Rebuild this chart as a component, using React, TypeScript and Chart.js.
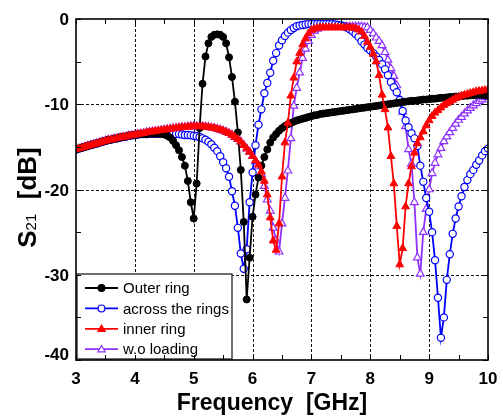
import React, { useEffect, useRef } from 'react';
import { Chart, registerables } from 'chart.js';

Chart.register(...registerables);

// Frequency sweep (GHz)
const FREQ_GHZ = [
  3.0, 3.05, 3.1, 3.15, 3.2, 3.25, 3.3, 3.35, 3.4, 3.45,
  3.5, 3.55, 3.6, 3.65, 3.7, 3.75, 3.8, 3.85, 3.9, 3.95,
  4.0, 4.05, 4.1, 4.15, 4.2, 4.25, 4.3, 4.35, 4.4, 4.45,
  4.5, 4.55, 4.6, 4.65, 4.7, 4.75, 4.8, 4.85, 4.9, 4.95,
  5.0, 5.05, 5.1, 5.15, 5.2, 5.25, 5.3, 5.35, 5.4, 5.45,
  5.5, 5.55, 5.6, 5.65, 5.7, 5.75, 5.8, 5.85, 5.9, 5.95,
  6.0, 6.05, 6.1, 6.15, 6.2, 6.25, 6.3, 6.35, 6.4, 6.45,
  6.5, 6.55, 6.6, 6.65, 6.7, 6.75, 6.8, 6.85, 6.9, 6.95,
  7.0, 7.05, 7.1, 7.15, 7.2, 7.25, 7.3, 7.35, 7.4, 7.45,
  7.5, 7.55, 7.6, 7.65, 7.7, 7.75, 7.8, 7.85, 7.9, 7.95,
  8.0, 8.05, 8.1, 8.15, 8.2, 8.25, 8.3, 8.35, 8.4, 8.45,
  8.5, 8.55, 8.6, 8.65, 8.7, 8.75, 8.8, 8.85, 8.9, 8.95,
  9.0, 9.05, 9.1, 9.15, 9.2, 9.25, 9.3, 9.35, 9.4, 9.45,
  9.5, 9.55, 9.6, 9.65, 9.7, 9.75, 9.8, 9.85, 9.9, 9.95,
  10.0,
];

// S21 (dB) – Outer ring
const OUTER_RING = [
  -15.3, -15.2, -15.1, -15.0, -14.9, -14.8, -14.7, -14.6, -14.5, -14.4,
  -14.3, -14.2, -14.15, -14.05, -14.0, -13.9, -13.85, -13.8, -13.7, -13.65,
  -13.6, -13.55, -13.5, -13.5, -13.5, -13.45, -13.45, -13.45, -13.45, -13.5,
  -13.55, -13.7, -13.9, -14.3, -14.8, -15.4, -16.2, -17.2, -19.0, -21.5,
  -23.4, -19.3, -12.8, -7.6, -4.4, -2.85, -2.1, -1.85, -1.8, -1.85,
  -2.1, -2.85, -4.5, -6.8, -9.7, -13.3, -17.7, -23.8, -32.9, -28.0,
  -23.2, -20.6, -18.6, -17.2, -16.2, -15.3, -14.5, -13.9, -13.5, -13.1,
  -12.8, -12.55, -12.35, -12.2, -12.05, -11.9, -11.8, -11.7, -11.6, -11.5,
  -11.4, -11.3, -11.25, -11.15, -11.1, -11.05, -11.0, -10.95, -10.9, -10.85,
  -10.8, -10.75, -10.7, -10.65, -10.6, -10.55, -10.5, -10.45, -10.4, -10.35,
  -10.3, -10.25, -10.2, -10.15, -10.1, -10.05, -10.0, -9.95, -9.9, -9.85,
  -9.8, -9.75, -9.7, -9.65, -9.6, -9.6, -9.55, -9.5, -9.45, -9.45,
  -9.4, -9.35, -9.35, -9.3, -9.25, -9.25, -9.2, -9.15, -9.15, -9.1,
  -9.1, -9.05, -9.0, -9.0, -8.95, -8.95, -8.9, -8.9, -8.9, -8.95,
  -9.0,
];

// S21 (dB) – across the rings
const ACROSS_RINGS = [
  -15.3, -15.2, -15.1, -15.0, -14.9, -14.8, -14.7, -14.6, -14.5, -14.4,
  -14.3, -14.2, -14.15, -14.05, -14.0, -13.9, -13.85, -13.8, -13.7, -13.65,
  -13.6, -13.55, -13.5, -13.5, -13.5, -13.45, -13.45, -13.45, -13.45, -13.45,
  -13.45, -13.45, -13.45, -13.45, -13.5, -13.5, -13.55, -13.6, -13.6, -13.65,
  -13.7, -13.75, -13.85, -14.0, -14.15, -14.4, -14.7, -15.1, -15.5, -16.1,
  -16.8, -17.5, -18.5, -20.2, -21.9, -24.5, -27.5, -29.3, -27.0, -21.5,
  -18.0, -14.8, -12.4, -10.6, -8.7, -7.5, -6.3, -4.9, -4.0, -3.1,
  -2.5, -2.0, -1.6, -1.3, -1.05, -0.85, -0.75, -0.7, -0.65, -0.6,
  -0.6, -0.6, -0.6, -0.6, -0.6, -0.6, -0.6, -0.6, -0.65, -0.7,
  -0.75, -0.85, -1.0, -1.2, -1.45, -1.75, -2.1, -2.6, -3.0, -3.4,
  -3.7, -4.0, -4.4, -4.8, -5.3, -5.9, -6.6, -7.4, -8.0, -8.6,
  -9.5, -10.8, -11.9, -12.7, -13.4, -14.0, -14.9, -17.2, -19.1, -21.0,
  -22.6, -25.0, -28.3, -32.7, -37.4, -35.0, -30.6, -27.6, -25.2, -23.4,
  -22.0, -20.8, -19.7, -18.9, -18.2, -17.7, -17.1, -16.6, -16.0, -15.5,
  -15.2,
];

// S21 (dB) – inner ring
const INNER_RING = [
  -15.3, -15.2, -15.1, -15.0, -14.9, -14.8, -14.7, -14.6, -14.5, -14.4,
  -14.3, -14.2, -14.15, -14.05, -14.0, -13.9, -13.85, -13.8, -13.7, -13.65,
  -13.6, -13.5, -13.45, -13.4, -13.3, -13.25, -13.2, -13.15, -13.1, -13.05,
  -13.0, -12.95, -12.9, -12.85, -12.8, -12.75, -12.7, -12.7, -12.65, -12.6,
  -12.6, -12.6, -12.6, -12.6, -12.65, -12.7, -12.75, -12.8, -12.9, -13.0,
  -13.1, -13.25, -13.4, -13.6, -13.85, -14.1, -14.4, -14.8, -15.2, -15.6,
  -16.1, -16.6, -17.1, -17.9, -19.0, -20.6, -23.3, -26.0, -27.1, -24.0,
  -18.5, -14.5, -12.2, -9.0, -6.9, -5.0, -4.0, -3.0, -2.3, -1.7,
  -1.3, -1.15, -1.05, -1.0, -1.0, -1.0, -1.0, -1.0, -1.0, -1.0,
  -1.0, -1.0, -1.0, -1.0, -1.05, -1.1, -1.25, -1.5, -2.0, -2.7,
  -3.3, -4.1, -5.0, -6.6, -8.9, -10.6, -12.75, -16.1, -19.3, -24.3,
  -28.8, -26.9, -22.0, -19.3, -17.3, -15.7, -14.6, -13.9, -13.2, -12.5,
  -11.9, -11.4, -11.0, -10.7, -10.4, -10.1, -9.9, -9.7, -9.5, -9.3,
  -9.15, -9.0, -8.9, -8.8, -8.7, -8.6, -8.5, -8.45, -8.4, -8.35,
  -8.3,
];

// S21 (dB) – without loading
const WO_LOADING = [
  -15.3, -15.2, -15.1, -15.0, -14.9, -14.8, -14.7, -14.6, -14.5, -14.4,
  -14.3, -14.2, -14.15, -14.05, -14.0, -13.9, -13.85, -13.8, -13.7, -13.65,
  -13.6, -13.5, -13.45, -13.4, -13.3, -13.25, -13.2, -13.15, -13.1, -13.05,
  -13.0, -12.95, -12.9, -12.85, -12.8, -12.75, -12.7, -12.7, -12.65, -12.6,
  -12.6, -12.6, -12.6, -12.6, -12.65, -12.7, -12.75, -12.8, -12.9, -13.0,
  -13.1, -13.25, -13.4, -13.6, -13.85, -14.1, -14.4, -14.8, -15.2, -15.6,
  -16.1, -16.7, -17.3, -18.2, -19.6, -21.2, -22.5, -24.5, -26.0, -27.3,
  -24.0, -21.0, -17.8, -14.0, -10.2, -8.1, -6.3, -4.6, -3.5, -2.6,
  -1.9, -1.4, -1.15, -1.0, -0.95, -0.9, -0.9, -0.9, -0.9, -0.9,
  -0.9, -0.9, -0.9, -0.9, -0.9, -0.9, -0.9, -0.9, -0.95, -1.0,
  -1.3, -1.7, -2.2, -2.6, -3.1, -3.9, -4.8, -5.8, -6.7, -7.8,
  -9.4, -10.9, -12.6, -15.3, -17.0, -21.5, -28.0, -29.9, -25.0, -22.3,
  -20.0, -18.1, -16.9, -15.9, -15.15, -14.35, -13.8, -13.3, -12.8, -12.3,
  -11.85, -11.5, -11.1, -10.75, -10.45, -10.15, -9.9, -9.65, -9.45, -9.2,
  -9.0,
];

const SERIES_NAMES = ['Outer ring', 'across the rings', 'inner ring', 'w.o loading'];

const X_MIN = 3;
const X_MAX = 10;
const Y_MIN = -40;
const Y_MAX = 0;
const X_TICKS = [3, 4, 5, 6, 7, 8, 9, 10];
const X_TICK_LABELS = ['3', '4', '5', '6', '7', '8', '9', '10'];
const Y_TICKS = [0, -10, -20, -30, -40];
const Y_TICK_LABELS = ['0', '-10', '-20', '-30', '-40'];
const X_MINOR_STEP = 0.5;
const Y_MINOR_STEP = 5;
const X_TITLE = 'Frequency  [GHz]';

const FONT = "'Liberation Sans', Arial, Helvetica, sans-serif";

function trianglePath(ctx: CanvasRenderingContext2D, cx: number, cy: number, r: number) {
  ctx.beginPath();
  for (let k = 0; k < 3; k++) {
    const ang = -Math.PI / 2 + (k * 2 * Math.PI) / 3;
    const px = cx + r * Math.cos(ang);
    const py = cy + r * Math.sin(ang);
    if (k === 0) ctx.moveTo(px, py);
    else ctx.lineTo(px, py);
  }
  ctx.closePath();
}

const decorPlugin = {
  id: 'decor',
  beforeDatasetsDraw(chart: any) {
    const { ctx, chartArea: a, scales } = chart;
    const x = scales.x;
    const y = scales.y;
    ctx.save();
    ctx.strokeStyle = '#111';
    ctx.lineWidth = 1;
    ctx.setLineDash([3, 2]);
    for (const v of X_TICKS) {
      if (v === X_MIN || v === X_MAX) continue;
      const px = Math.round(x.getPixelForValue(v)) + 0.5;
      ctx.beginPath();
      ctx.moveTo(px, a.top);
      ctx.lineTo(px, a.bottom);
      ctx.stroke();
    }
    for (const v of Y_TICKS) {
      if (v === Y_MIN || v === Y_MAX) continue;
      const py = Math.round(y.getPixelForValue(v)) + 0.5;
      ctx.beginPath();
      ctx.moveTo(a.left, py);
      ctx.lineTo(a.right, py);
      ctx.stroke();
    }
    ctx.restore();
  },
  afterDatasetsDraw(chart: any) {
    const { ctx, chartArea: a, scales } = chart;
    const x = scales.x;
    const y = scales.y;
    ctx.save();

    // Legend box
    const box = { left: a.left + 1, top: a.bottom - 86, width: 155, height: 85 };
    ctx.fillStyle = '#fff';
    ctx.fillRect(box.left, box.top, box.width, box.height);
    ctx.strokeStyle = '#333';
    ctx.lineWidth = 1.4;
    ctx.strokeRect(box.left, box.top, box.width, box.height);

    ctx.font = `15px ${FONT}`;
    ctx.textBaseline = 'middle';
    ctx.textAlign = 'left';
    SERIES_NAMES.forEach((name, i) => {
      const ds = chart.data.datasets[i];
      const cy = box.top + 14 + i * 20.4;
      const x0 = box.left + 8;
      const x1 = box.left + 41;
      const mx = (x0 + x1) / 2;
      ctx.strokeStyle = ds.borderColor;
      ctx.lineWidth = 1.8;
      ctx.beginPath();
      ctx.moveTo(x0, cy);
      ctx.lineTo(x1, cy);
      ctx.stroke();
      ctx.lineWidth = 1.2;
      if (ds.pointStyle === 'triangle') trianglePath(ctx, mx, cy + 0.5, 4.2);
      else {
        ctx.beginPath();
        ctx.arc(mx, cy, 3.4, 0, Math.PI * 2);
      }
      ctx.fillStyle = ds.pointBackgroundColor;
      ctx.fill();
      ctx.strokeStyle = ds.pointBorderColor;
      ctx.stroke();
      ctx.fillStyle = '#000';
      ctx.fillText(name, box.left + 46, cy + 1);
    });

    // Frame
    ctx.strokeStyle = '#000';
    ctx.lineWidth = 1.6;
    ctx.strokeRect(a.left, a.top, a.right - a.left, a.bottom - a.top);

    // Inward ticks on all four sides
    ctx.lineWidth = 1;
    const tl = 5;
    for (let v = X_MIN; v <= X_MAX + 1e-9; v += X_MINOR_STEP) {
      const px = Math.round(x.getPixelForValue(v)) + 0.5;
      ctx.beginPath();
      ctx.moveTo(px, a.top);
      ctx.lineTo(px, a.top + tl);
      ctx.moveTo(px, a.bottom);
      ctx.lineTo(px, a.bottom - tl);
      ctx.stroke();
    }
    for (let v = Y_MIN; v <= Y_MAX + 1e-9; v += Y_MINOR_STEP) {
      const py = Math.round(y.getPixelForValue(v)) + 0.5;
      ctx.beginPath();
      ctx.moveTo(a.left, py);
      ctx.lineTo(a.left + tl, py);
      ctx.moveTo(a.right, py);
      ctx.lineTo(a.right - tl, py);
      ctx.stroke();
    }

    // Tick labels
    ctx.fillStyle = '#000';
    ctx.font = `bold 17px ${FONT}`;
    ctx.textBaseline = 'alphabetic';
    ctx.textAlign = 'center';
    X_TICKS.forEach((v, i) => {
      ctx.fillText(X_TICK_LABELS[i], x.getPixelForValue(v), a.bottom + 24);
    });
    ctx.textAlign = 'right';
    Y_TICKS.forEach((v, i) => {
      let base = y.getPixelForValue(v) + 6;
      if (base > a.bottom) base = a.bottom;
      ctx.fillText(Y_TICK_LABELS[i], a.left - 7, base);
    });

    // X title
    ctx.font = `bold 23px ${FONT}`;
    ctx.textAlign = 'center';
    ctx.fillText(X_TITLE, (a.left + a.right) / 2 - 10, a.bottom + 50);

    // Y title: S21 [dB]
    ctx.save();
    ctx.translate(36, (a.top + a.bottom) / 2 + 8);
    ctx.rotate(-Math.PI / 2);
    const bigFont = `bold 26px ${FONT}`;
    const subFont = `15px ${FONT}`;
    ctx.font = bigFont;
    const wS = ctx.measureText('S').width;
    const wDB = ctx.measureText('  [dB]').width;
    ctx.font = subFont;
    const w21 = ctx.measureText('21').width;
    let u = -(wS + w21 + wDB) / 2;
    ctx.textAlign = 'left';
    ctx.textBaseline = 'alphabetic';
    ctx.font = bigFont;
    ctx.fillText('S', u, 0);
    u += wS;
    ctx.font = subFont;
    ctx.fillText('21', u, 0);
    u += w21;
    ctx.font = bigFont;
    ctx.fillText('  [dB]', u, 0);
    ctx.restore();

    ctx.restore();
  },
};

function toPoints(values: number[]) {
  return values.map((v, i) => ({ x: FREQ_GHZ[i], y: v }));
}

export default function App() {
  const canvasRef = useRef<HTMLCanvasElement | null>(null);

  useEffect(() => {
    if (!canvasRef.current) return;
    const chart = new Chart(canvasRef.current, {
      type: 'line',
      data: {
        datasets: [
          {
            label: SERIES_NAMES[0],
            data: toPoints(OUTER_RING),
            borderColor: '#000000',
            borderWidth: 1.8,
            pointStyle: 'circle',
            pointRadius: 3.5,
            pointBackgroundColor: '#000000',
            pointBorderColor: '#000000',
            pointBorderWidth: 1,
            order: 1,
          },
          {
            label: SERIES_NAMES[1],
            data: toPoints(ACROSS_RINGS),
            borderColor: '#0000ff',
            borderWidth: 1.8,
            pointStyle: 'circle',
            pointRadius: 3.6,
            pointBackgroundColor: '#ffffff',
            pointBorderColor: '#0000ff',
            pointBorderWidth: 1.2,
            order: 2,
          },
          {
            label: SERIES_NAMES[2],
            data: toPoints(INNER_RING),
            borderColor: '#ff0000',
            borderWidth: 1.8,
            pointStyle: 'triangle',
            pointRadius: 4.5,
            pointBackgroundColor: '#ff0000',
            pointBorderColor: '#ff0000',
            pointBorderWidth: 1,
            order: 0,
          },
          {
            label: SERIES_NAMES[3],
            data: toPoints(WO_LOADING),
            borderColor: '#8f30ff',
            borderWidth: 1.8,
            pointStyle: 'triangle',
            pointRadius: 4.5,
            pointBackgroundColor: '#ffffff',
            pointBorderColor: '#8f30ff',
            pointBorderWidth: 1.2,
            order: 3,
          },
        ],
      },
      options: {
        responsive: false,
        animation: false,
        devicePixelRatio: 1,
        layout: { padding: { left: 76, top: 19, right: 15, bottom: 57 } },
        plugins: {
          legend: { display: false },
          tooltip: { enabled: false },
        },
        elements: { line: { tension: 0 } },
        scales: {
          x: { type: 'linear', min: X_MIN, max: X_MAX, display: false },
          y: { type: 'linear', min: Y_MIN, max: Y_MAX, display: false },
        },
      },
      plugins: [decorPlugin],
    });
    return () => chart.destroy();
  }, []);

  return (
    <div style={{ position: 'absolute', left: 0, top: 0, width: 503, height: 417, background: '#fff' }}>
      <canvas ref={canvasRef} width={503} height={417} style={{ display: 'block', width: 503, height: 417 }} />
    </div>
  );
}
